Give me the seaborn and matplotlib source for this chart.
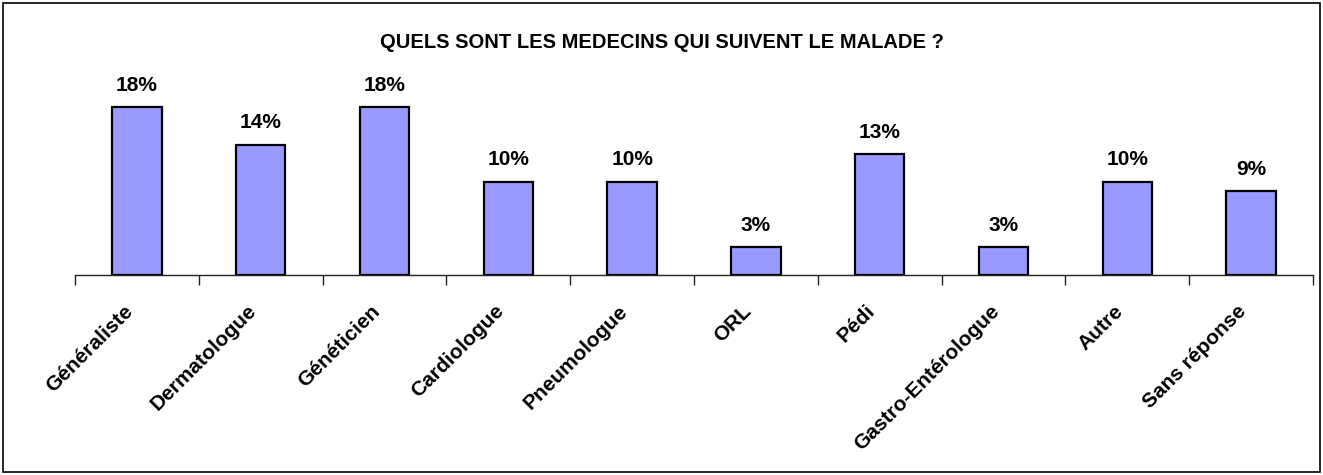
import matplotlib
matplotlib.use("Agg")
import matplotlib.pyplot as plt
import matplotlib.transforms as mtransforms
import seaborn as sns
import pandas as pd
import numpy as np
from matplotlib.patches import Rectangle

categories = ["Généraliste", "Dermatologue", "Généticien", "Cardiologue", "Pneumologue",
              "ORL", "Pédi", "Gastro-Entérologue", "Autre", "Sans réponse"]
values = [18, 14, 18, 10, 10, 3, 13, 3, 10, 9]
title = "QUELS SONT LES MEDECINS QUI SUIVENT LE MALADE ?"

sns.set_theme(style="white")
plt.rcParams['font.family'] = ['Liberation Sans', 'DejaVu Sans']
plt.rcParams['text.color'] = 'black'
plt.rcParams['xtick.color'] = 'black'

df = pd.DataFrame({"cat": categories, "val": values})

fig = plt.figure(figsize=(13.23, 4.75), dpi=100)
ax = fig.add_axes([75/1323, 1-275/475, (1313-75)/1323, (275-60)/475])

sns.barplot(data=df, x="cat", y="val", ax=ax, color="#9999FF", width=0.40,
            edgecolor="black", linewidth=1.6, saturation=1)

ax.set_xlim(-0.5, len(categories)-0.5)
ax.set_ylim(0, 23.1)
ax.set_xlabel("")
ax.set_ylabel("")
ax.set_yticks([])
for s in ["top", "right", "left"]:
    ax.spines[s].set_visible(False)
ax.spines["bottom"].set_color("#222222")
ax.spines["bottom"].set_linewidth(1.0)

ax.set_xticks(np.arange(len(categories)))
ax.set_xticklabels(categories, rotation=45, ha="right", rotation_mode="anchor",
                   fontsize=15, fontweight="bold", color="black")
ax.set_xticks(np.arange(-0.5, len(categories)), minor=True)
ax.tick_params(axis="x", which="both", bottom=True)
ax.tick_params(axis="x", which="major", length=0, pad=19)
ax.tick_params(axis="x", which="minor", length=7, width=1.0, color="#222222", direction="out")
shift = mtransforms.ScaledTranslation(-14/100, 0, fig.dpi_scale_trans)
for lab in ax.get_xticklabels():
    lab.set_transform(lab.get_transform() + shift)

for i, v in enumerate(values):
    ax.annotate(f"{v}%", (i, v), xytext=(0, 9), textcoords="offset points",
                ha="center", va="bottom", fontsize=15, fontweight="bold", color="black")

fig.text(0.5, 1-42/475, title, ha="center", va="center", fontsize=14.5,
         fontweight="bold", color="black")

fig.patches.append(Rectangle((3/1323, 3/475), 1-6/1323, 1-6/475, transform=fig.transFigure,
                             fill=False, edgecolor="black", linewidth=1.2))

fig.savefig("out.png", dpi=100)
